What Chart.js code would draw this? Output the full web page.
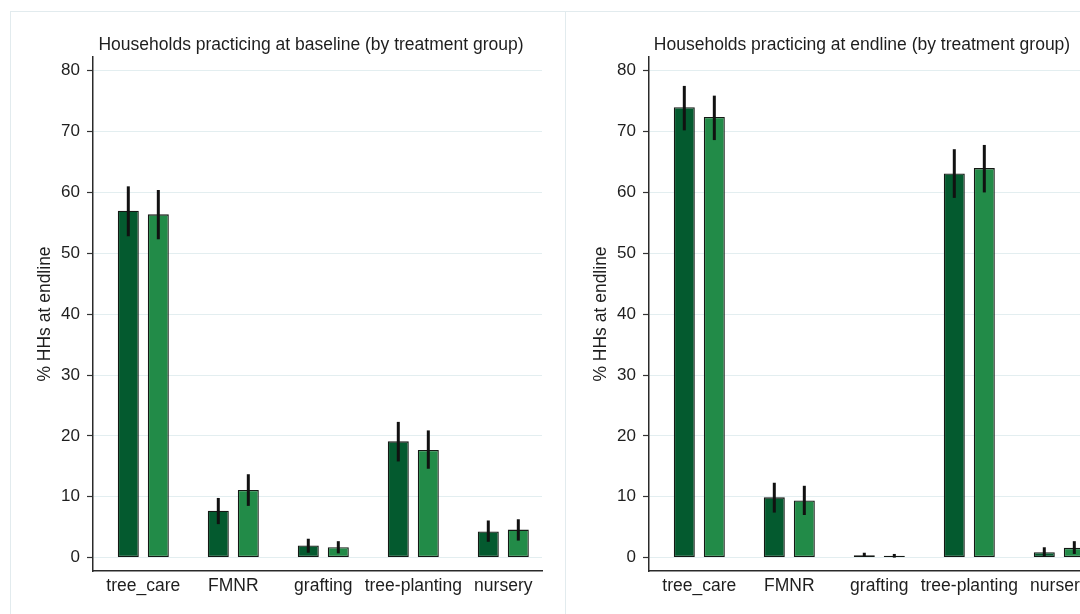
<!DOCTYPE html>
<html>
<head>
<meta charset="utf-8">
<script src="https://cdn.jsdelivr.net/npm/chart.js@4/dist/chart.umd.min.js"></script>
<style>
  html, body { margin: 0; padding: 0; background: #fff; overflow: hidden; }
  body { width: 1080px; height: 614px; position: relative; }
  .frame-top { position: absolute; left: 10px; top: 11px; width: 1070px; height: 1px; background: #e2ebee; }
  .frame-left { position: absolute; left: 10px; top: 11px; width: 1px; height: 603px; background: #e2ebee; }
  .frame-mid { position: absolute; left: 565px; top: 11px; width: 1px; height: 603px; background: #e2ebee; }
  .panel { position: absolute; top: 0; width: 565px; height: 614px; }
  .panel canvas { position: absolute; left: 0; top: 0; }
  .ptitle { position: absolute; top: 33px; left: 0; width: 622px; text-align: center;
            font: 17.5px "Liberation Sans", Arial, sans-serif; color: #1e1e1e; line-height: 22px; white-space: nowrap; }
</style>
</head>
<body>
<div class="frame-top"></div>
<div class="frame-left"></div>
<div class="frame-mid"></div>

<div class="panel" style="left:0px">
  <canvas id="baseline" width="565" height="614"></canvas>
  <div class="ptitle">Households practicing at baseline (by treatment group)</div>
</div>
<div class="panel" style="left:556px">
  <canvas id="endline" width="565" height="614"></canvas>
  <div class="ptitle" style="width:612px">Households practicing at endline (by treatment group)</div>
</div>

<script>
// Practices shown on the x axis
const categories = ['tree_care', 'FMNR', 'grafting', 'tree-planting', 'nursery'];
const yTicks = [0, 10, 20, 30, 40, 50, 60, 70, 80];
const groupNames = ['Treatment 1', 'Treatment 2'];

// Baseline: share of households practicing (%) with 95% CI bounds
const baselineT1   = [57.0, 7.7, 2.0, 19.1, 4.3];
const baselineT1Lo = [52.8, 5.5, 0.8, 15.8, 2.6];
const baselineT1Hi = [61.0, 9.8, 3.1, 22.3, 6.1];
const baselineT2   = [56.4, 11.1, 1.7, 17.7, 4.6];
const baselineT2Lo = [52.3, 8.5, 0.7, 14.6, 2.8];
const baselineT2Hi = [60.4, 13.7, 2.7, 20.9, 6.3];

// Endline: share of households practicing (%) with 95% CI bounds
const endlineT1   = [74.0, 9.9, 0.4, 63.1, 0.9];
const endlineT1Lo = [70.2, 7.4, 0.1, 59.1, 0.1];
const endlineT1Hi = [77.5, 12.3, 0.8, 67.1, 1.7];
const endlineT2   = [72.4, 9.4, 0.3, 64.0, 1.6];
const endlineT2Lo = [68.6, 7.0, 0.0, 60.0, 0.6];
const endlineT2Hi = [75.9, 11.8, 0.6, 67.8, 2.7];

const FONT = '"Liberation Sans", Arial, sans-serif';
const DARK = '#045a2f';
const LIGHT = '#228b48';
const OUTLINE = '#141814';

// Draws the confidence-interval whiskers through the value scale
const ciPlugin = {
  id: 'ciWhiskers',
  afterDatasetsDraw(chart) {
    const ctx = chart.ctx;
    const yScale = chart.scales.y;
    ctx.save();
    ctx.strokeStyle = '#111';
    ctx.lineWidth = 3;
    ctx.lineCap = 'butt';
    chart.data.datasets.forEach((ds, di) => {
      const meta = chart.getDatasetMeta(di);
      meta.data.forEach((bar, i) => {
        const yLo = yScale.getPixelForValue(ds.ciLo[i]);
        const yHi = yScale.getPixelForValue(ds.ciHi[i]);
        ctx.beginPath();
        ctx.moveTo(bar.x, yLo);
        ctx.lineTo(bar.x, yHi);
        ctx.stroke();
      });
    });
    ctx.restore();
  }
};

function makePanel(id, s1, lo1, hi1, s2, lo2, hi2) {
  const toPts = arr => arr.map((v, i) => ({ x: i, y: v }));
  return new Chart(document.getElementById(id), {
    type: 'bar',
    data: {
      datasets: [
        { label: groupNames[0], data: toPts(s1), ciLo: lo1, ciHi: hi1,
          backgroundColor: DARK, borderColor: OUTLINE, borderWidth: 1.3, borderSkipped: false },
        { label: groupNames[1], data: toPts(s2), ciLo: lo2, ciHi: hi2,
          backgroundColor: LIGHT, borderColor: OUTLINE, borderWidth: 1.3, borderSkipped: false }
      ]
    },
    options: {
      responsive: false,
      animation: false,
      events: [],
      categoryPercentage: 0.667,
      barPercentage: 0.7,
      layout: { padding: { left: 34.5, right: 23, top: 57, bottom: 0 } },
      plugins: { legend: { display: false }, tooltip: { enabled: false }, title: { display: false } },
      scales: {
        x: {
          type: 'linear',
          min: -0.559,
          max: 4.43,
          offset: false,
          afterBuildTicks: s => { s.ticks = categories.map((c, i) => ({ value: i })); },
          afterFit: s => { s.height = 43; },
          grid: { display: false, drawTicks: false },
          border: { display: true, color: '#2a2a2a', width: 1.5 },
          ticks: {
            padding: 5,
            autoSkip: false,
            maxRotation: 0,
            color: '#1e1e1e',
            font: { family: FONT, size: 17.5 },
            callback: v => categories[v] ?? ''
          }
        },
        y: {
          min: -2.2,
          max: 82.25,
          afterBuildTicks: s => { s.ticks = yTicks.map(v => ({ value: v })); },
          afterFit: s => { s.width = 58.5; },
          grid: { color: '#e3eef0', lineWidth: 1, drawTicks: true, tickLength: 6, tickColor: '#333', tickWidth: 1.2 },
          border: { display: true, color: '#2a2a2a', width: 1.5 },
          ticks: { padding: 7, color: '#1e1e1e', font: { family: FONT, size: 17 } },
          title: { display: true, text: '% HHs at endline', color: '#1e1e1e',
                   padding: { top: 0, bottom: 0 }, font: { family: FONT, size: 17.5 } }
        }
      }
    },
    plugins: [ciPlugin]
  });
}

makePanel('baseline', baselineT1, baselineT1Lo, baselineT1Hi, baselineT2, baselineT2Lo, baselineT2Hi);
makePanel('endline', endlineT1, endlineT1Lo, endlineT1Hi, endlineT2, endlineT2Lo, endlineT2Hi);
</script>
</body>
</html>
